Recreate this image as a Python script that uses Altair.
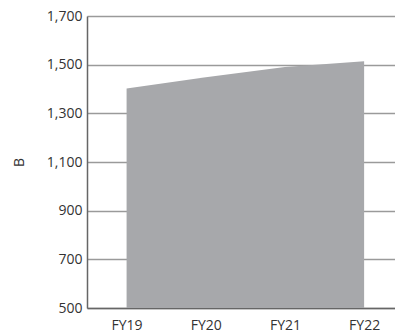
import altair as alt
import pandas as pd

years = ["FY19", "FY20", "FY21", "FY22"]
values = [1402, 1448, 1490, 1514]
y_ticks = [500, 700, 900, 1100, 1300, 1500, 1700]

df = pd.DataFrame({"idx": list(range(len(years))), "year": years, "value": values})

label_map = "{" + ",".join(f"'{i}':'{y}'" for i, y in enumerate(years)) + "}"

chart = (
    alt.Chart(df)
    .mark_area(color="#a7a8ab", opacity=1, clip=True)
    .encode(
        x=alt.X(
            "idx:Q",
            scale=alt.Scale(domain=[-0.5, 3.39], nice=False, zero=False),
            axis=alt.Axis(
                values=list(range(len(years))),
                labelExpr=f"{label_map}[datum.value]",
                title=None,
                grid=False,
                ticks=False,
                domainColor="#666666",
                domainWidth=1.5,
                labelPadding=10,
            ),
        ),
        y=alt.Y(
            "value:Q",
            scale=alt.Scale(domain=[500, 1700], nice=False, zero=False),
            axis=alt.Axis(
                values=y_ticks,
                format=",.0f",
                title="B",
                titleAngle=-90,
                titleFontWeight="normal",
                titlePadding=20,
                grid=True,
                gridColor="#9a9a9a",
                gridWidth=1.5,
                ticks=False,
                domainColor="#666666",
                domainWidth=1.5,
                labelPadding=5,
            ),
        ),
    )
    .properties(width=308, height=292, padding={"left": 87, "top": 16, "right": 0, "bottom": 27})
    .configure(autosize=alt.AutoSizeParams(type="none"))
    .configure_view(stroke=None)
    .configure_axis(
        labelFont="Open Sans",
        titleFont="Open Sans",
        labelFontSize=14,
        titleFontSize=14,
        labelColor="#333333",
        titleColor="#333333",
    )
)

chart.save("out.html", embed_options={"renderer": "svg", "actions": False})
